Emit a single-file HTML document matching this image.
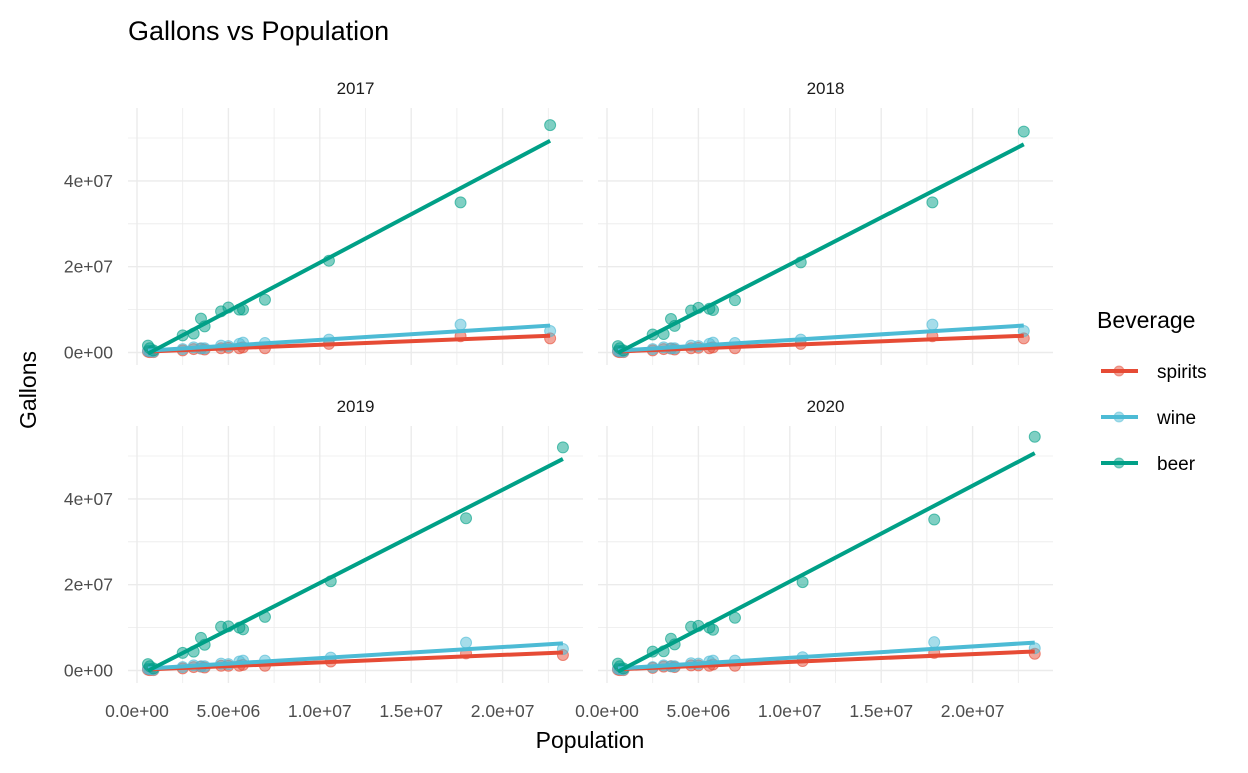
<!DOCTYPE html>
<html><head><meta charset="utf-8">
<style>
body{margin:0;background:#fff;font-family:"Liberation Sans",Arial,sans-serif;}
svg text{font-family:"Liberation Sans",Arial,sans-serif;}
</style></head>
<body>
<svg id="chart" width="1248" height="768" viewBox="0 0 1248 768">
<text x="128" y="40" font-size="27" fill="#000">Gallons vs Population</text>
<text x="590" y="748" font-size="23" text-anchor="middle" fill="#000">Population</text>
<text transform="translate(36,390) rotate(-90)" font-size="23" text-anchor="middle" fill="#000">Gallons</text>
<g id="panels"></g>
<g>
<text x="1097" y="328" font-size="23" fill="#000">Beverage</text>
<g><line x1="1101" y1="371" x2="1138" y2="371" stroke="#E64B35" stroke-width="4"/><circle cx="1119" cy="371" r="5" fill="#E64B35" fill-opacity="0.5" stroke="#E64B35" stroke-opacity="0.5"/><text x="1157" y="378" font-size="19">spirits</text></g>
<g><line x1="1101" y1="417" x2="1138" y2="417" stroke="#4DBBD5" stroke-width="4"/><circle cx="1119" cy="417" r="5" fill="#4DBBD5" fill-opacity="0.5" stroke="#4DBBD5" stroke-opacity="0.5"/><text x="1157" y="424" font-size="19">wine</text></g>
<g><line x1="1101" y1="463" x2="1138" y2="463" stroke="#00A087" stroke-width="4"/><circle cx="1119" cy="463" r="5" fill="#00A087" fill-opacity="0.5" stroke="#00A087" stroke-opacity="0.5"/><text x="1157" y="470" font-size="19">beer</text></g>
</g>
</svg>
<script>
const years = ["2017","2018","2019","2020"];
const population = [
 [0.6,0.7,0.9,2.5,3.1,3.5,3.7,4.6,5.0,5.6,5.8,7.0,10.5,17.7,22.6],
 [0.6,0.7,0.9,2.5,3.1,3.5,3.7,4.6,5.0,5.6,5.8,7.0,10.6,17.8,22.8],
 [0.6,0.7,0.9,2.5,3.1,3.5,3.7,4.6,5.0,5.6,5.8,7.0,10.6,18.0,23.3],
 [0.6,0.7,0.9,2.5,3.1,3.5,3.7,4.6,5.0,5.6,5.8,7.0,10.7,17.9,23.4]
];
const beer = [
 [1.6,1.0,0.5,4.0,4.4,7.9,6.1,9.6,10.5,10.0,10.0,12.3,21.4,35.0,53.0],
 [1.5,1.0,0.5,4.2,4.3,7.8,6.2,9.8,10.4,10.2,9.9,12.2,21.0,35.0,51.5],
 [1.5,1.0,0.5,4.1,4.4,7.6,6.0,10.2,10.3,10.0,9.6,12.5,20.8,35.5,52.0],
 [1.6,1.0,0.5,4.4,4.5,7.4,6.1,10.2,10.4,10.0,9.5,12.3,20.6,35.2,54.5]
];
const wine = [
 [0.4,0.3,0.2,0.8,1.2,1.0,1.0,1.6,1.5,2.0,2.3,2.2,3.0,6.5,5.0],
 [0.4,0.3,0.2,0.8,1.2,1.0,1.0,1.6,1.5,2.0,2.3,2.2,3.0,6.5,5.0],
 [0.4,0.3,0.2,0.8,1.2,1.0,1.0,1.6,1.5,2.1,2.3,2.3,3.0,6.5,5.0],
 [0.4,0.3,0.2,0.8,1.2,1.0,1.0,1.7,1.6,2.1,2.3,2.3,3.1,6.6,5.2]
];
const spirits = [
 [0.2,0.1,0.1,0.5,0.8,0.9,0.7,1.0,1.1,1.0,1.2,1.0,2.0,3.8,3.3],
 [0.2,0.1,0.1,0.5,0.8,0.9,0.7,1.0,1.1,1.0,1.2,1.0,2.0,3.8,3.3],
 [0.2,0.1,0.1,0.5,0.8,0.9,0.7,1.1,1.1,1.1,1.3,1.1,2.1,4.0,3.6],
 [0.2,0.1,0.1,0.6,0.9,1.0,0.8,1.2,1.2,1.1,1.4,1.1,2.2,4.1,3.9]
];
const xTicks = [0,5,10,15,20];
const xTickLabels = ["0.0e+00","5.0e+06","1.0e+07","1.5e+07","2.0e+07"];
const yTicks = [0,20,40];
const yTickLabels = ["0e+00","2e+07","4e+07"];
const series = [["spirits",spirits,"#E64B35"],["wine",wine,"#4DBBD5"],["beer",beer,"#00A087"]];

const NS="http://www.w3.org/2000/svg";
const g=document.getElementById('panels');
function mk(t,a,p){const e=document.createElementNS(NS,t);for(const k in a)e.setAttribute(k,a[k]);(p||g).appendChild(e);return e;}
const PW=455, PT=108, PH=257;
const offs=[[128,0],[598,0],[128,318],[598,318]];
years.forEach((yr,i)=>{
  const ox=offs[i][0], oy=offs[i][1];
  const sx=v=>ox+9+v*18.28;
  const sy=v=>oy+352.5-v*4.29;
  const pg=mk('g',{});
  
  
  const st=mk('text',{x:ox+PW/2,y:oy+94,'font-size':17,'text-anchor':'middle',fill:'#1a1a1a'},pg);
  st.textContent=yr;
  
  
  for(let v=-2.5;v<=25;v+=2.5){const x=sx(v);if(x<ox||x>ox+PW)continue;
    const l=mk('line',{x1:x,x2:x,y1:oy+PT,y2:oy+PT+PH,stroke:'#ebebeb','stroke-width':(v%5===0?1.4:0.8)},pg);
    }
  for(let v=-10;v<=60;v+=10){const y=sy(v);if(y<oy+PT||y>oy+PT+PH)continue;
    const l=mk('line',{x1:ox,x2:ox+PW,y1:y,y2:y,stroke:'#ebebeb','stroke-width':(v%20===0?1.4:0.8)},pg);
    }
  if(i%2===0) yTicks.forEach((v,k)=>{const t=mk('text',{x:ox-15,y:sy(v)+6,'font-size':17.5,'text-anchor':'end',fill:'#4d4d4d'},pg);t.textContent=yTickLabels[k];
    });
  if(i>=2) xTicks.forEach((v,k)=>{const t=mk('text',{x:sx(v),y:oy+399,'font-size':17.5,'text-anchor':'middle',fill:'#4d4d4d'},pg);t.textContent=xTickLabels[k];
    });
  const px=population[i];
  series.forEach(([name,arr,col])=>{
    const ys=arr[i];
    ys.forEach((v,j)=>{const c=mk('circle',{cx:sx(px[j]),cy:sy(v),r:5.5,fill:col,'fill-opacity':0.5,stroke:col,'stroke-opacity':0.6},pg);
      });
  });
  series.forEach(([name,arr,col])=>{
    const ys=arr[i];const n=px.length;
    let mx=0,my=0;for(let j=0;j<n;j++){mx+=px[j];my+=ys[j];}mx/=n;my/=n;
    let sxy=0,sxx=0;for(let j=0;j<n;j++){sxy+=(px[j]-mx)*(ys[j]-my);sxx+=(px[j]-mx)**2;}
    const b=sxy/sxx,a=my-b*mx;const x0=Math.min(...px),x1=Math.max(...px);
    const l=mk('line',{x1:sx(x0),y1:sy(a+b*x0),x2:sx(x1),y2:sy(a+b*x1),stroke:col,'stroke-width':4},pg);
    
  });
});
</script>
</body></html>
